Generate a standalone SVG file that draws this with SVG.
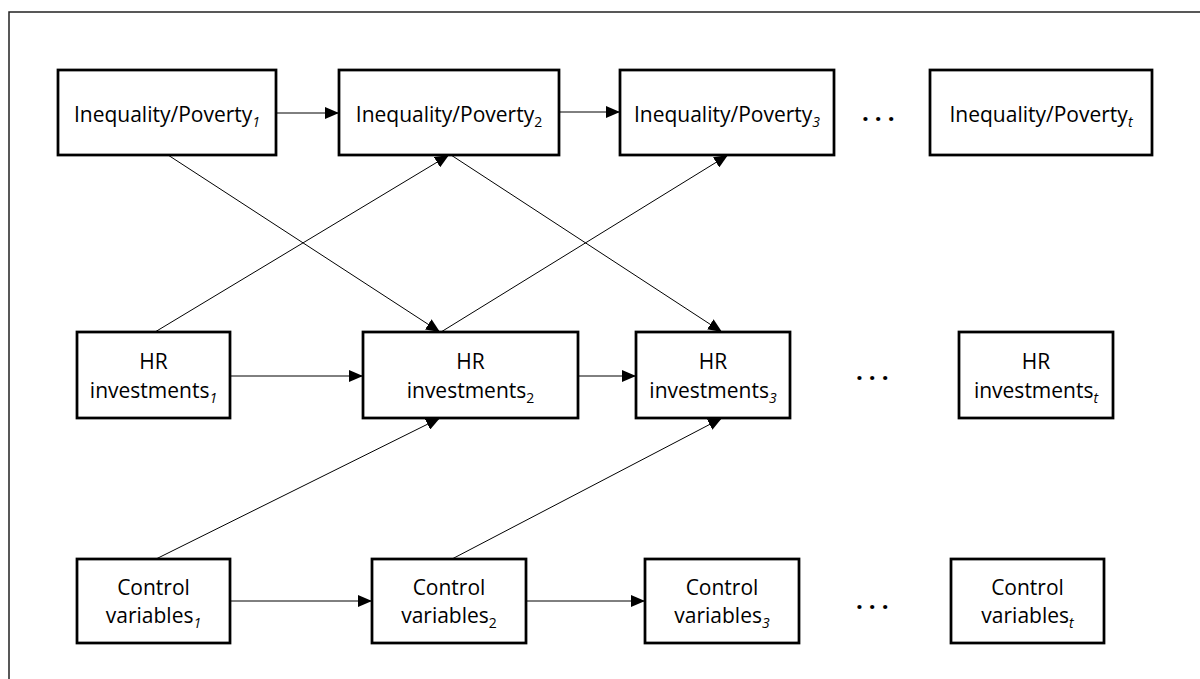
<svg xmlns="http://www.w3.org/2000/svg" width="1200" height="679" viewBox="0 0 1200 679">
<style>
.box{fill:#fff;stroke:#000;stroke-width:2.75}
.lbl{font-family:"Open Sans","Liberation Sans",sans-serif;font-size:21px;fill:#000;text-anchor:middle}
.sub{font-size:14px}
.it{font-style:italic}
.con{stroke:#000;stroke-width:1;fill:none;marker-end:url(#ah)}
.dots{font-family:"Open Sans","Liberation Sans",sans-serif;font-size:24px;font-weight:bold;fill:#000;letter-spacing:6px}
</style>
<defs>
<marker id="ah" markerUnits="userSpaceOnUse" markerWidth="14" markerHeight="12" refX="14" refY="6" orient="auto">
<path d="M0,0 L14,6 L0,12 z" fill="#000"/>
</marker>
</defs>
<rect x="9" y="12" width="1210" height="690" fill="#fff" stroke="#222" stroke-width="1.5"/>
<g id="connectors">
<line class="con" x1="276" y1="113" x2="339" y2="113"/>
<line class="con" x1="559" y1="112" x2="620" y2="112"/>
<line class="con" x1="230" y1="376" x2="363" y2="376"/>
<line class="con" x1="578" y1="376" x2="636" y2="376"/>
<line class="con" x1="230" y1="601" x2="372" y2="601"/>
<line class="con" x1="526" y1="601" x2="645" y2="601"/>
<line class="con" x1="168" y1="155" x2="440" y2="332"/>
<line class="con" x1="155" y1="332" x2="449" y2="155"/>
<line class="con" x1="451" y1="155" x2="722" y2="332"/>
<line class="con" x1="441" y1="332" x2="728" y2="155"/>
<line class="con" x1="156" y1="559" x2="440" y2="418"/>
<line class="con" x1="452" y1="559" x2="722" y2="418"/>
</g>
<g id="ineq1"><rect class="box" x="58" y="70" width="218" height="85"/><text class="lbl" x="167" y="122">Inequality/Poverty<tspan class="sub it" dy="5">1</tspan></text></g>
<g id="ineq2"><rect class="box" x="339" y="70" width="220" height="85"/><text class="lbl" x="449" y="122">Inequality/Poverty<tspan class="sub" dy="5">2</tspan></text></g>
<g id="ineq3"><rect class="box" x="620" y="70" width="214" height="85"/><text class="lbl" x="727" y="122">Inequality/Poverty<tspan class="sub it" dy="5">3</tspan></text></g>
<g id="ineqt"><rect class="box" x="930" y="70" width="222" height="85"/><text class="lbl" x="1041" y="122">Inequality/Poverty<tspan class="sub it" dy="5">t</tspan></text></g>
<g id="hr1"><rect class="box" x="77" y="332" width="153" height="86"/><text class="lbl" x="153.5" y="369">HR</text><text class="lbl" x="153.5" y="398">investments<tspan class="sub it" dy="5">1</tspan></text></g>
<g id="hr2"><rect class="box" x="363" y="332" width="215" height="86"/><text class="lbl" x="470.5" y="369">HR</text><text class="lbl" x="470.5" y="398">investments<tspan class="sub" dy="5">2</tspan></text></g>
<g id="hr3"><rect class="box" x="636" y="332" width="154" height="86"/><text class="lbl" x="713" y="369">HR</text><text class="lbl" x="713" y="398">investments<tspan class="sub it" dy="5">3</tspan></text></g>
<g id="hrt"><rect class="box" x="959" y="332" width="154" height="86"/><text class="lbl" x="1036" y="369">HR</text><text class="lbl" x="1036" y="398">investments<tspan class="sub it" dy="5">t</tspan></text></g>
<g id="cv1"><rect class="box" x="77" y="559" width="153" height="84"/><text class="lbl" x="153.5" y="595">Control</text><text class="lbl" x="153.5" y="623">variables<tspan class="sub it" dy="5">1</tspan></text></g>
<g id="cv2"><rect class="box" x="372" y="559" width="154" height="84"/><text class="lbl" x="449" y="595">Control</text><text class="lbl" x="449" y="623">variables<tspan class="sub" dy="5">2</tspan></text></g>
<g id="cv3"><rect class="box" x="645" y="559" width="154" height="84"/><text class="lbl" x="722" y="595">Control</text><text class="lbl" x="722" y="623">variables<tspan class="sub it" dy="5">3</tspan></text></g>
<g id="cvt"><rect class="box" x="951" y="559" width="153" height="84"/><text class="lbl" x="1027.5" y="595">Control</text><text class="lbl" x="1027.5" y="623">variables<tspan class="sub it" dy="5">t</tspan></text></g>
<text class="dots" x="862" y="121">...</text>
<text class="dots" x="856" y="380">...</text>
<text class="dots" x="856" y="609">...</text>
</svg>
